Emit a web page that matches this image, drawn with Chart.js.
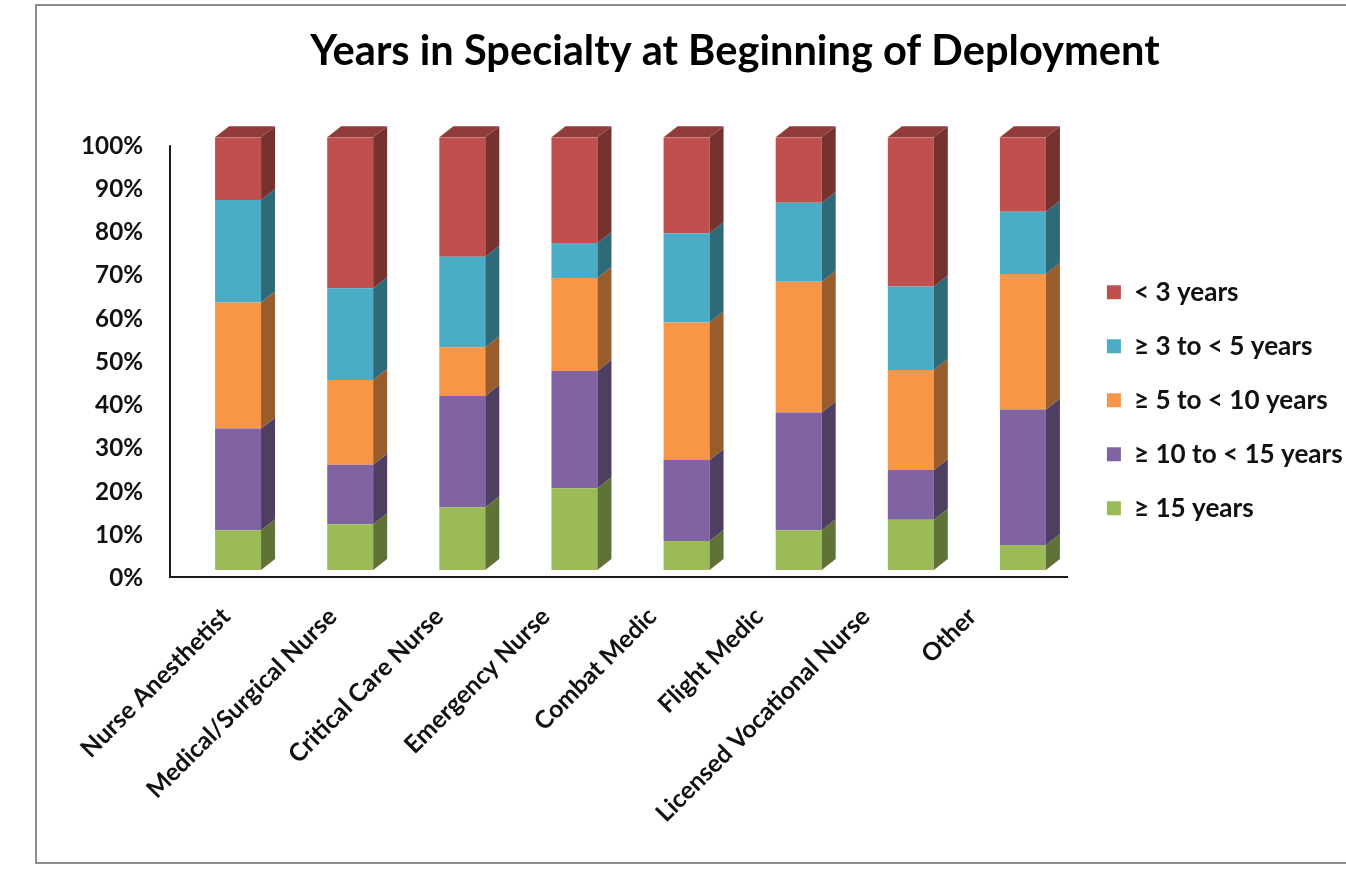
<!DOCTYPE html>
<html>
<head>
<meta charset="utf-8">
<title>Years in Specialty at Beginning of Deployment</title>
<script src="https://cdn.jsdelivr.net/npm/chart.js@4.4.1/dist/chart.umd.min.js"></script>
<style>
  html, body { margin: 0; padding: 0; background: #fff; overflow: hidden; }
  #frame { position: absolute; left: 35px; top: 4px; width: 1330px; height: 856px; border: 2px solid #8c8c8c; }
  #chart { position: absolute; left: 0; top: 0; }
</style>
</head>
<body>
<div id="frame"></div>
<canvas id="chart" width="1346" height="872"></canvas>
<script>
// Dados (percentual de cada faixa por especialidade)
const categories = [
  'Nurse Anesthetist', 'Medical/Surgical Nurse', 'Critical Care Nurse', 'Emergency Nurse',
  'Combat Medic', 'Flight Medic', 'Licensed Vocational Nurse', 'Other'
];
const seriesNames = ['≥ 15 years', '≥ 10 to < 15 years', '≥ 5 to < 10 years', '≥ 3 to < 5 years', '< 3 years'];
const over15   = [9.2, 10.6, 14.5, 18.9, 6.7, 9.2, 11.6, 5.8];
const from10   = [23.5, 13.7, 25.7, 27.1, 18.7, 27.2, 11.5, 31.3];
const from5    = [29.1, 19.6, 11.3, 21.5, 31.8, 30.2, 23.1, 31.3];
const from3    = [23.7, 21.2, 20.9, 8.1, 20.6, 18.3, 19.3, 14.4];
const under3   = [14.5, 34.9, 27.6, 24.4, 22.2, 15.1, 34.5, 17.2];
const yTickLabels = ['0%', '10%', '20%', '30%', '40%', '50%', '60%', '70%', '80%', '90%', '100%'];

const colors = ['#9BBB59', '#8064A2', '#F79646', '#4BACC6', '#C0504D'];
const FAMILY = 'Lato';

// mede o texto pra achar o tamanho de fonte que bate com a largura do original
function textWidth(text, weight, size) {
  const c = document.createElement('canvas').getContext('2d');
  c.font = weight + ' ' + size + 'px ' + FAMILY;
  return c.measureText(text).width;
}
function fitSize(text, weight, target) {
  return Math.round(1000 * target / textWidth(text, weight, 100)) / 10;
}
const titleSize  = fitSize('Years in Specialty at Beginning of Deployment', 'bold', 850);
const yTickSize  = fitSize('100%', 'bold', 62);
const xTickSize  = fitSize('Licensed Vocational Nurse', 'bold', 290);
const legendSize = fitSize('≥ 5 to < 10 years', 'bold', 194);
const yWidest = Math.max(...yTickLabels.map(t => textWidth(t, 'bold', yTickSize)));

function shade(hex, f) {
  const n = parseInt(hex.slice(1), 16);
  const r = ((n >> 16) & 255) * f, g = ((n >> 8) & 255) * f, b = (n & 255) * f;
  return 'rgb(' + (r | 0) + ',' + (g | 0) + ',' + (b | 0) + ')';
}

// lateral e topo das barras (efeito 3D)
const DX = 14, DY = 11;
const bar3d = {
  id: 'bar3d',
  afterDatasetsDraw(chart) {
    const ctx = chart.ctx;
    const last = chart.data.datasets.length - 1;
    ctx.save();
    chart.data.datasets.forEach((ds, di) => {
      chart.getDatasetMeta(di).data.forEach(bar => {
        const p = bar.getProps(['x', 'y', 'base', 'width'], true);
        const l = p.x - p.width / 2, r = p.x + p.width / 2;
        ctx.fillStyle = shade(ds.backgroundColor, 0.62);
        ctx.beginPath();
        ctx.moveTo(r, p.y); ctx.lineTo(r + DX, p.y - DY);
        ctx.lineTo(r + DX, p.base - DY); ctx.lineTo(r, p.base);
        ctx.closePath(); ctx.fill();
        if (di === last) {
          ctx.fillStyle = shade(ds.backgroundColor, 0.76);
          ctx.beginPath();
          ctx.moveTo(l, p.y); ctx.lineTo(l + DX, p.y - DY);
          ctx.lineTo(r + DX, p.y - DY); ctx.lineTo(r, p.y);
          ctx.closePath(); ctx.fill();
        }
      });
    });
    ctx.restore();
  }
};

// eixos desenhados à parte (piso/parede do gráfico 3D)
const axisLines = {
  id: 'axisLines',
  beforeDatasetsDraw(chart) {
    const a = chart.chartArea, ctx = chart.ctx;
    ctx.save();
    ctx.strokeStyle = '#1a1a1a';
    ctx.lineWidth = 2;
    ctx.beginPath();
    ctx.moveTo(a.left - 12, a.top + 8);
    ctx.lineTo(a.left - 12, a.bottom + 7);
    ctx.lineTo(a.right - 11, a.bottom + 7);
    ctx.stroke();
    ctx.restore();
  }
};

const series = [over15, from10, from5, from3, under3];
const titleTop = 52 - titleSize * 0.6;

// no original os rótulos do eixo X ficam mais juntos que as barras (perspectiva)
const labelStep = 106.6, labelStart = 226, plotLeft = 182, plotWidth = 897;
const labelMin = -(labelStart - plotLeft) / labelStep;
const labelMax = labelMin + plotWidth / labelStep;

new Chart(document.getElementById('chart'), {
  type: 'bar',
  data: {
    labels: categories,
    datasets: series.map((d, i) => ({
      label: seriesNames[i],
      data: d,
      backgroundColor: colors[i],
      borderWidth: 0,
      barPercentage: 0.41,
      categoryPercentage: 1.0
    }))
  },
  options: {
    responsive: false,
    animation: false,
    layout: { padding: { left: 124, right: 0, top: 0, bottom: 0 } },
    plugins: {
      tooltip: { enabled: false },
      title: {
        display: true,
        text: 'Years in Specialty at Beginning of Deployment',
        color: '#000',
        font: { family: FAMILY, size: titleSize, weight: 'bold' },
        padding: { top: titleTop, bottom: 137.3 - titleTop - titleSize * 1.2 }
      },
      legend: {
        position: 'right',
        fullSize: false,
        align: 'center',
        reverse: true,
        maxWidth: 267,
        title: { display: true, text: ' ', font: { size: 10 }, padding: { top: 40, bottom: 41 } },
        labels: {
          boxWidth: 14,
          boxHeight: 14,
          padding: 54 - legendSize,
          color: '#111',
          font: { family: FAMILY, size: legendSize, weight: 'bold' }
        }
      }
    },
    scales: {
      x: {
        stacked: true,
        display: false
      },
      xl: {
        type: 'linear',
        position: 'bottom',
        offset: false,
        min: labelMin,
        max: labelMax,
        grid: { display: false, drawTicks: false },
        border: { display: false },
        afterFit(s) { s.height = 872 - 570; },
        ticks: {
          stepSize: 1,
          includeBounds: false,
          autoSkip: false,
          minRotation: 45,
          maxRotation: 45,
          padding: 32,
          color: '#111',
          font: { family: FAMILY, size: xTickSize, weight: 'bold' },
          callback: v => categories[Math.round(v)] || ''
        }
      },
      y: {
        stacked: true,
        min: 0,
        max: 100,
        grid: { display: false, drawTicks: false },
        border: { display: false },
        afterFit(s) { s.width = 58; },
        ticks: {
          stepSize: 10,
          // mirror evita o recorte dos rótulos na caixa estreita do eixo
          mirror: true,
          crossAlign: 'far',
          padding: -39 - yWidest,
          labelOffset: 8.5,
          color: '#111',
          font: { family: FAMILY, size: yTickSize, weight: 'bold' },
          callback: (v, i) => yTickLabels[i]
        }
      }
    }
  },
  plugins: [axisLines, bar3d]
});
</script>
</body>
</html>
